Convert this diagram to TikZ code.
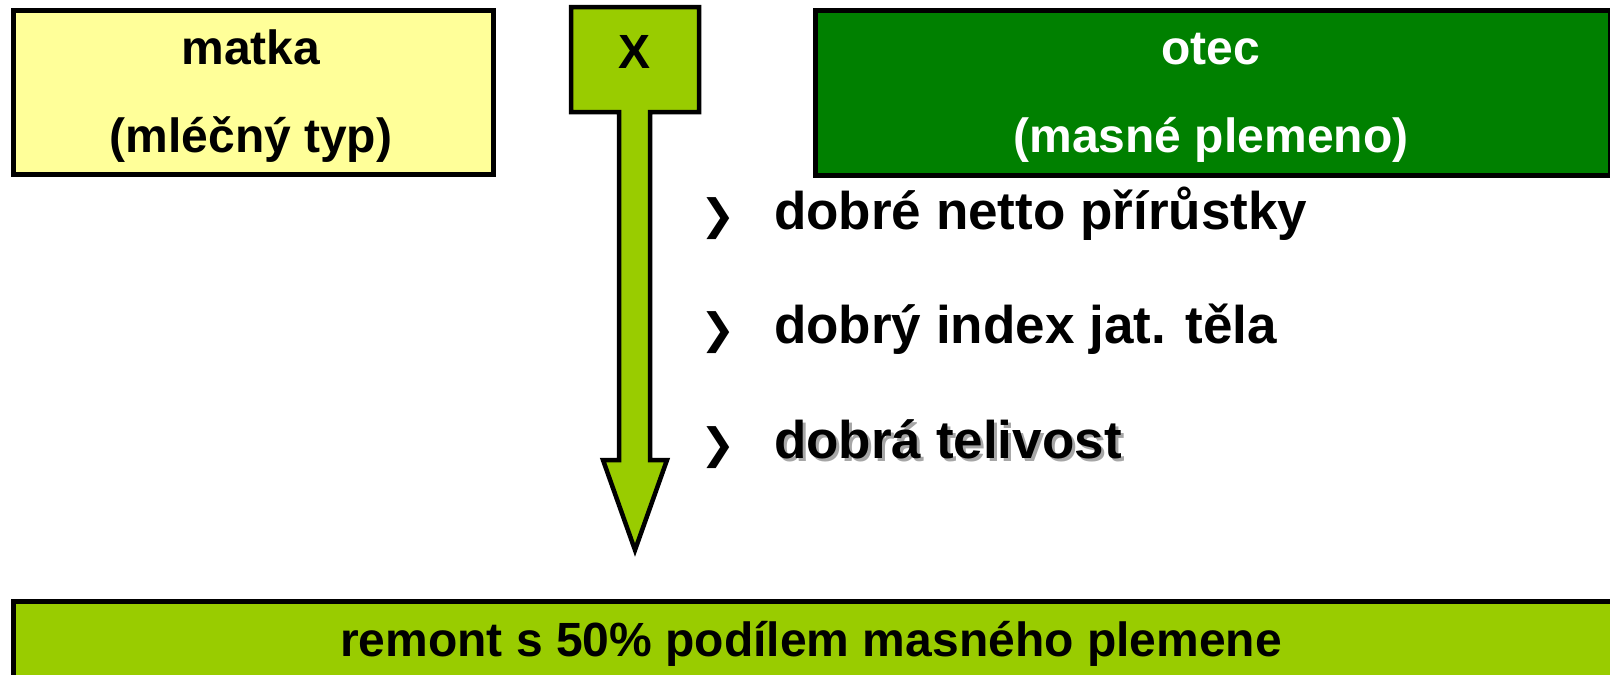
\documentclass[tikz,border=0pt]{standalone}
\usepackage{fontspec}
\setmainfont{Liberation Sans}
\newfontfamily\symfont{DejaVu Sans}
\usetikzlibrary{positioning}

\definecolor{milk}{RGB}{255,255,153}
\definecolor{lime}{RGB}{153,204,0}
\definecolor{meat}{RGB}{0,128,0}

\tikzset{
  box/.style={draw,line width=4.5pt,inner sep=0pt,anchor=north west},
  boxtext/.style={font=\fontsize{48}{48}\selectfont\bfseries,anchor=base,inner sep=0pt},
  item/.style={font=\fontsize{53}{53}\selectfont\bfseries,anchor=base west,inner sep=0pt},
  chevron/.style={font=\fontsize{42}{42}\selectfont\symfont\bfseries,anchor=base west,inner sep=0pt}
}

\begin{document}
\begin{tikzpicture}[x=1pt,y=-1pt]
\useasboundingbox (0,0) rectangle (1610,675);
\clip (0,0) rectangle (1610,675);

% parents
\node[box,fill=milk,minimum width=480pt,minimum height=164pt] (matka) at (11,8) {};
\node[boxtext] (matka1) at (251,64) {matka};
\node[boxtext] (matka2) at (251,152) {(mléčný typ)};

\node[box,fill=meat,minimum width=795pt,minimum height=165pt] (otec) at (813,8) {};
\node[boxtext,text=white] (otec1) at (1211,64) {otec};
\node[boxtext,text=white] (otec2) at (1211,152) {(masné plemeno)};

% cross with arrow down
\draw[line width=4.5pt,fill=lime] (571,7) -- (699,7) -- (699,112) -- (650,112) -- (650,460)
  -- (667,460) -- (635,550) -- (603,460) -- (619,460) -- (619,112) -- (571,112) -- cycle;
\node[boxtext] (X) at (635,68) {X};

% traits of the sire
\node[item,text=black!35] (B3s) at (777,461) {dobrá telivost};
\foreach \t [count=\n] in {dobré netto přírůstky,dobrý index jat. těla,dobrá telivost}
  {
  \node[chevron] (C\n) at (700,{229+(\n-1)*114.5}) {❯};
  \node[item] (B\n) at (774,{229+(\n-1)*114.5}) {\t};
  }

% offspring
\node[box,fill=lime,minimum width=1620pt,minimum height=100pt] (remont) at (11,599) {};
\node[boxtext] (remont1) at (811,656) {remont s 50\% podílem masného plemene};
\end{tikzpicture}
\end{document}
